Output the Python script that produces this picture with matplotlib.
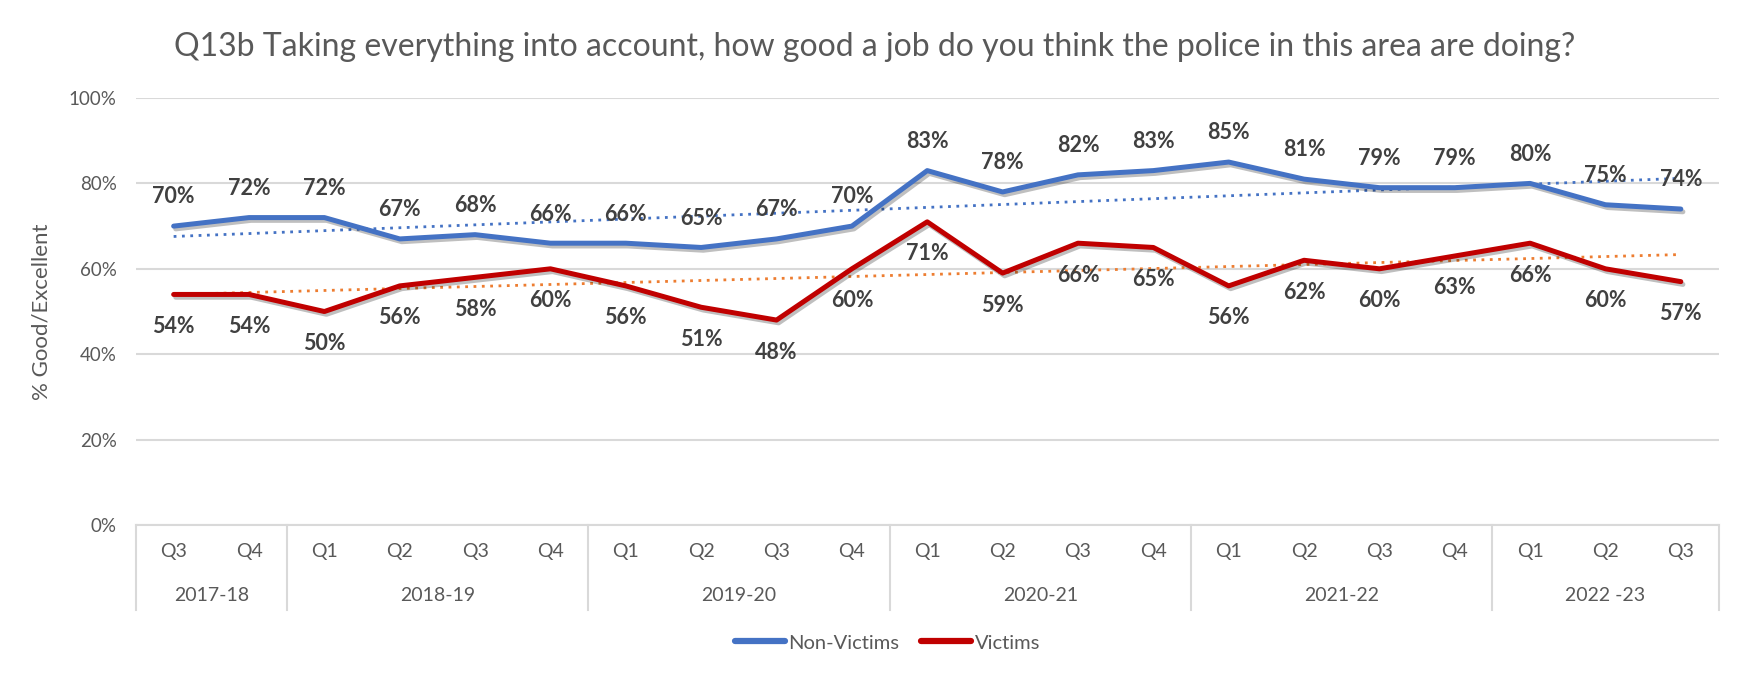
import numpy as np
import matplotlib.pyplot as plt
import matplotlib.patheffects as pe

plt.rcParams['font.family'] = ['Lato', 'DejaVu Sans']

quarters = ['Q3', 'Q4',
            'Q1', 'Q2', 'Q3', 'Q4',
            'Q1', 'Q2', 'Q3', 'Q4',
            'Q1', 'Q2', 'Q3', 'Q4',
            'Q1', 'Q2', 'Q3', 'Q4',
            'Q1', 'Q2', 'Q3']
years = ['2017-18', '2018-19', '2019-20', '2020-21', '2021-22', '2022 -23']
year_sizes = [2, 4, 4, 4, 4, 3]

non_victims = [70, 72, 72, 67, 68, 66, 66, 65, 67, 70, 83, 78, 82, 83, 85, 81, 79, 79, 80, 75, 74]
victims = [54, 54, 50, 56, 58, 60, 56, 51, 48, 60, 71, 59, 66, 65, 56, 62, 60, 63, 66, 60, 57]

blue = '#4472C4'
red = '#C00000'
orange = '#ED7D31'
grey = '#595959'
label_col = '#404040'
grid_col = '#D9D9D9'

fig = plt.figure(figsize=(17.5, 6.74), dpi=100)
ax = fig.add_axes([0.0777, 0.221, 0.9043, 0.6336])

x = np.arange(len(quarters))
shadow = [pe.SimpleLineShadow(offset=(1.5, -2), shadow_color='black', alpha=0.25), pe.Normal()]

# trendlines (linear fit, like Excel)
for vals, col in [(non_victims, blue), (victims, orange)]:
    k, b = np.polyfit(x, vals, 1)
    ax.plot(x, k * x + b, color=col, lw=2, linestyle=(0, (1, 2)), zorder=2)

ax.plot(x, non_victims, color=blue, lw=3.6, label='Non-Victims', zorder=3,
        path_effects=shadow, solid_joinstyle='round', solid_capstyle='round')
ax.plot(x, victims, color=red, lw=3.6, label='Victims', zorder=3,
        path_effects=shadow, solid_joinstyle='round', solid_capstyle='round')

for xi, v in zip(x, non_victims):
    ax.annotate(f'{v}%', (xi, v), xytext=(0, 21), textcoords='offset points',
                ha='center', va='center', fontsize=15.5, fontweight='bold', color=label_col, zorder=5)
for xi, v in zip(x, victims):
    ax.annotate(f'{v}%', (xi, v), xytext=(0, -23), textcoords='offset points',
                ha='center', va='center', fontsize=15.5, fontweight='bold', color=label_col, zorder=5)

ax.set_xlim(-0.5, len(quarters) - 0.5)
ax.set_ylim(0, 100)
ax.set_yticks(range(0, 101, 20))
ax.set_yticklabels([f'{t}%' for t in range(0, 101, 20)], fontsize=13.5, color=grey)
ax.yaxis.grid(True, color=grid_col, lw=1.5)
ax.set_axisbelow(True)
ax.tick_params(axis='y', length=0, pad=14)
ax.tick_params(axis='x', length=0)
ax.set_xticks([])
for s in ['top', 'right', 'left']:
    ax.spines[s].set_visible(False)
ax.spines['bottom'].set_color(grid_col)
ax.spines['bottom'].set_linewidth(1.5)

ax.set_ylabel('% Good/Excellent', fontsize=16, color=grey, labelpad=12)

# two-level category axis
trans = ax.get_xaxis_transform()
for xi, q in zip(x, quarters):
    ax.text(xi, -0.061, q, transform=trans, ha='center', va='center', fontsize=14, color=grey)
start = -0.5
bounds = [start]
for name, n in zip(years, year_sizes):
    ax.text(start + n / 2, -0.164, name, transform=trans, ha='center', va='center',
            fontsize=14, color=grey)
    start += n
    bounds.append(start)
for bx in bounds:
    ax.plot([bx, bx], [0, -0.2], transform=trans, color=grid_col, lw=1.5, clip_on=False)

fig.text(0.5, 0.93, 'Q13b Taking everything into account, how good a job do you think the police in this area are doing?',
         ha='center', va='center', fontsize=23, color=grey)

leg = fig.legend(loc='center', bbox_to_anchor=(0.507, 0.046), ncol=2, frameon=False,
                 fontsize=14.5, handlelength=2.5, handletextpad=0.15, columnspacing=1.1)
for t in leg.get_texts():
    t.set_color(grey)
for h in leg.get_lines():
    h.set_path_effects([])
    h.set_linewidth(4.5)
    h.set_solid_capstyle('round')

fig.savefig('out.png', dpi=100)
